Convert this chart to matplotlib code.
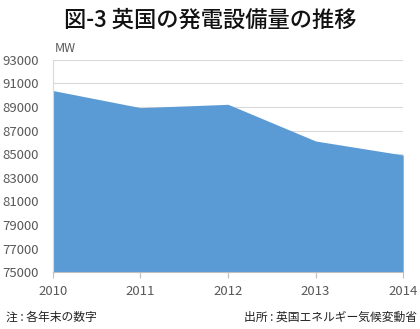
import matplotlib
matplotlib.use("Agg")
import matplotlib.pyplot as plt

plt.rcParams['font.family'] = ['Noto Sans CJK JP', 'DejaVu Sans']

# 英国の発電設備量 (MW, 各年末)
years = [2010, 2011, 2012, 2013, 2014]
capacity = [90400, 88950, 89230, 86120, 84930]
y_ticks = list(range(75000, 93001, 2000))

fill_color = '#5B9BD5'
grid_color = '#D9D9D9'
text_color = '#595959'

fig = plt.figure(figsize=(4.2, 3.29), dpi=100)
ax = fig.add_axes([0.126, 0.173, 0.834, 0.645])

ax.fill_between(years, capacity, 75000, color=fill_color, linewidth=0, zorder=2)

ax.set_xlim(years[0], years[-1])
ax.set_ylim(75000, 93000)
ax.set_xticks(years)
ax.set_yticks(y_ticks)
ax.grid(axis='y', color=grid_color, linewidth=0.8, zorder=1)

for side in ['top', 'right']:
    ax.spines[side].set_visible(False)
ax.spines['left'].set_color(grid_color)
ax.spines['bottom'].set_color('#BFBFBF')
ax.tick_params(axis='y', length=0, pad=10, labelsize=9.5, labelcolor=text_color)
ax.tick_params(axis='x', length=4, color='#BFBFBF', pad=5, labelsize=9.5, labelcolor=text_color)

fig.text(0.5, 0.938, '図-3 英国の発電設備量の推移', ha='center', va='center',
         fontsize=16, fontweight='medium', color='#111111')
fig.text(0.13, 0.852, 'MW', ha='left', va='center', fontsize=9, color=text_color)
fig.text(0.015, 0.035, '注 : 各年末の数字', ha='left', va='center', fontsize=8.5, color='#222222')
fig.text(0.993, 0.035, '出所 : 英国エネルギー気候変動省', ha='right', va='center',
         fontsize=8.5, color='#222222')

fig.savefig('out.png', dpi=100)
